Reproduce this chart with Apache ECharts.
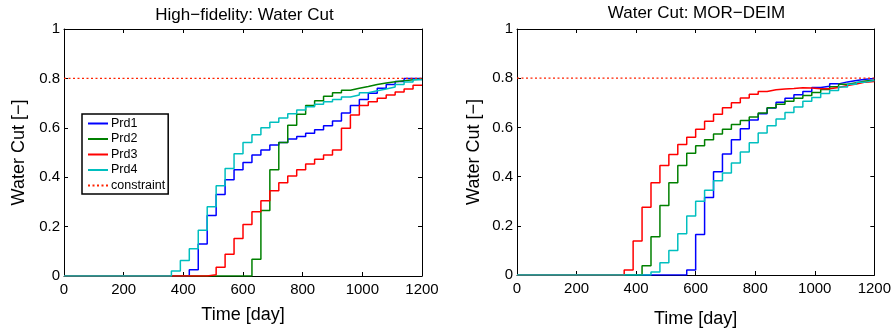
<!DOCTYPE html>
<html><head><meta charset="utf-8">
<script src="https://cdn.jsdelivr.net/npm/echarts@6/dist/echarts.min.js"></script>
<style>html,body{margin:0;padding:0;background:#fff}#c{width:894px;height:333px}</style>
</head><body><div id="c"></div>
<script>
const times = [0,30,60,90,120,150,180,210,240,270,300,330,360,390,420,450,480,510,540,570,600,630,660,690,720,750,780,810,840,870,900,930,960,990,1020,1050,1080,1110,1140,1170,1200];
const xTicks = [0,200,400,600,800,1000,1200];
const yTicks = [0,0.2,0.4,0.6,0.8,1];
const constraint = 0.8;
const seriesNames = ['Prd1','Prd2','Prd3','Prd4'];
const titles = ['High\u2212fidelity: Water Cut','Water Cut: MOR\u2212DEIM'];

const hfPrd1 = [0,0,0,0,0,0,0,0,0,0,0,0,0,0,0.025,0.13,0.245,0.33,0.39,0.43,0.46,0.49,0.51,0.53,0.54,0.555,0.565,0.578,0.592,0.608,0.628,0.66,0.69,0.715,0.74,0.76,0.775,0.787,0.8,0.8,0.8];
const hfPrd2 = [0,0,0,0,0,0,0,0,0,0,0,0,0,0,0,0,0,0,0,0,0,0.068,0.265,0.43,0.54,0.61,0.655,0.69,0.71,0.728,0.742,0.752,0.76,0.767,0.775,0.781,0.786,0.79,0.795,0.798,0.798];
const hfPrd3 = [0,0,0,0,0,0,0,0,0,0,0,0,0,0,0,0,0.005,0.035,0.088,0.152,0.208,0.26,0.305,0.345,0.378,0.405,0.43,0.453,0.473,0.49,0.51,0.598,0.652,0.69,0.705,0.72,0.733,0.745,0.757,0.772,0.772];
const hfPrd4 = [0,0,0,0,0,0,0,0,0,0,0,0,0.02,0.063,0.11,0.185,0.28,0.365,0.435,0.495,0.54,0.572,0.6,0.622,0.64,0.657,0.672,0.685,0.695,0.705,0.715,0.725,0.733,0.742,0.75,0.757,0.765,0.775,0.785,0.795,0.795];

const romPrd1 = [0,0,0,0,0,0,0,0,0,0,0,0,0,0,0,0,0,0,0,0.02,0.165,0.315,0.42,0.492,0.55,0.595,0.63,0.655,0.679,0.702,0.718,0.733,0.746,0.762,0.767,0.777,0.785,0.791,0.796,0.799,0.799];
const romPrd2 = [0,0,0,0,0,0,0,0,0,0,0,0,0,0,0.038,0.155,0.283,0.375,0.445,0.495,0.525,0.55,0.573,0.592,0.612,0.628,0.642,0.659,0.68,0.694,0.706,0.718,0.73,0.742,0.754,0.765,0.775,0.782,0.789,0.792,0.792];
const romPrd3 = [0,0,0,0,0,0,0,0,0,0,0,0,0.02,0.138,0.275,0.375,0.445,0.49,0.53,0.56,0.592,0.625,0.653,0.68,0.7,0.72,0.735,0.746,0.753,0.756,0.758,0.761,0.76,0.757,0.757,0.762,0.77,0.776,0.784,0.787,0.787];
const romPrd4 = [0,0,0,0,0,0,0,0,0,0,0,0,0,0,0,0.012,0.05,0.1,0.168,0.24,0.3,0.345,0.383,0.415,0.455,0.5,0.538,0.577,0.607,0.634,0.661,0.683,0.706,0.722,0.738,0.75,0.764,0.775,0.784,0.791,0.791];

const colors = ['#0000ff','#008000','#ff0000','#00bfbf'];
const FONT = 'Liberation Sans';
const chart = echarts.init(document.getElementById('c'), null, {renderer:'canvas'});

const grids = [
  {left:64, right:472, top:29, bottom:57},
  {left:517, right:19, top:29, bottom:57}
];
const xAxes = [], yAxes = [], series = [];
const sets = [[hfPrd1,hfPrd2,hfPrd3,hfPrd4],[romPrd1,romPrd2,romPrd3,romPrd4]];
const xNameGap = [30, 35], yNameGap = [36, 34];
for (let g = 0; g < 2; g++) {
  const common = {gridIndex:g, type:'value', min:0, max:1200, interval:200,
    axisLine:{show:true, onZero:false, lineStyle:{color:'#000', width:1}},
    axisTick:{show:true, inside:true, length:4, lineStyle:{color:'#000'}},
    splitLine:{show:false}};
  xAxes.push(Object.assign({}, common, {position:'bottom',
    name:'Time [day]', nameLocation:'middle', nameGap:xNameGap[g],
    nameTextStyle:{fontFamily:FONT, fontSize:18, color:'#000'},
    axisLabel:{fontFamily:FONT, fontSize:15, color:'#000', margin:6, formatter: v => String(v)}}));
  xAxes.push(Object.assign({}, common, {position:'top', axisLabel:{show:false}}));
  const ycommon = {gridIndex:g, type:'value', min:0, max:1, interval:0.2,
    axisLine:{show:true, onZero:false, lineStyle:{color:'#000', width:1}},
    axisTick:{show:true, inside:true, length:4, lineStyle:{color:'#000'}},
    splitLine:{show:false}};
  yAxes.push(Object.assign({}, ycommon, {position:'left',
    name:'Water Cut [\u2212]', nameLocation:'middle', nameGap:yNameGap[g],
    nameTextStyle:{fontFamily:FONT, fontSize:18, color:'#000'},
    axisLabel:{fontFamily:FONT, fontSize:15, color:'#000', margin:4,
      formatter: v => String(+v.toFixed(1))}}));
  yAxes.push(Object.assign({}, ycommon, {position:'right', axisLabel:{show:false}}));
  for (let s = 0; s < 4; s++) {
    series.push({name:seriesNames[s], type:'line', step:'end', xAxisIndex:g*2, yAxisIndex:g*2,
      symbol:'none', silent:true, animation:false,
      lineStyle:{color:colors[s], width:1.5}, itemStyle:{color:colors[s]},
      data: times.map((t,i)=>[t, sets[g][s][i]])});
  }
  series.push({name:'constraint', type:'line', xAxisIndex:g*2, yAxisIndex:g*2,
    symbol:'none', silent:true, animation:false,
    lineStyle:{color:'#ff2200', width:1.3, type:[2,2.5]}, itemStyle:{color:'#ff2200'},
    data:[[0,constraint],[1200,constraint]]});
}

chart.setOption({
  animation:false,
  backgroundColor:'#fff',
  graphic:[
    {type:'text', x:244.5, y:15, style:{text:titles[0], textAlign:'center', textVerticalAlign:'middle',
      font:'17px "Liberation Sans"', fill:'#000'}},
    {type:'text', x:696.5, y:13, style:{text:titles[1], textAlign:'center', textVerticalAlign:'middle',
      font:'17px "Liberation Sans"', fill:'#000'}}
  ],
  legend:{orient:'vertical', left:82, top:114, itemWidth:20, itemHeight:12, itemGap:2.5,
    padding:[3,3,2,5], borderColor:'#000', borderWidth:1.5, backgroundColor:'#fff',
    itemStyle:{opacity:0},
    textStyle:{fontFamily:FONT, fontSize:12.5, lineHeight:12, color:'#000', padding:[0,0,0,-2]},
    data:[...seriesNames,'constraint'], selectedMode:false},
  grid:grids, xAxis:xAxes, yAxis:yAxes, series:series
});
</script></body></html>
